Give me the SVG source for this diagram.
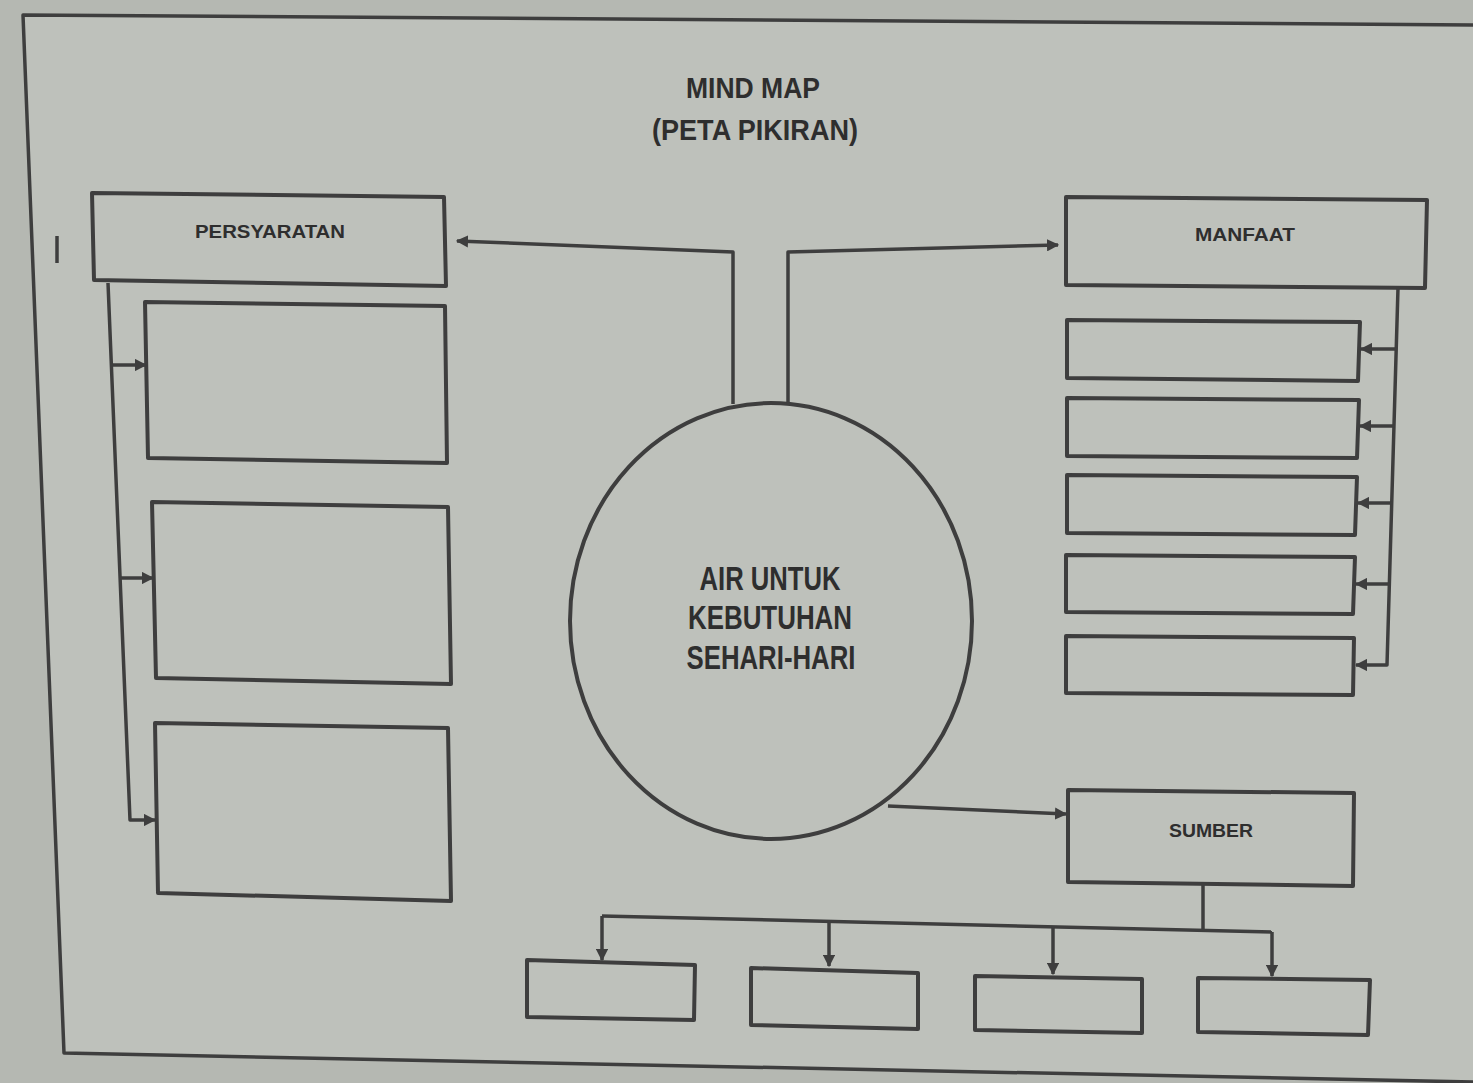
<svg xmlns="http://www.w3.org/2000/svg" width="1473" height="1083" viewBox="0 0 1473 1083">
<defs>
<style>
.bx{fill:none;stroke:#3e3e3e;stroke-width:4;stroke-linejoin:round}
.ln{fill:none;stroke:#3e3e3e;stroke-width:3.5;stroke-linejoin:round}
.t{font-family:"Liberation Sans",Arial,sans-serif;font-weight:bold;fill:#2e2e2e;text-anchor:middle}
</style>
<marker id="ah" viewBox="0 0 10 10" refX="9" refY="5" markerWidth="3.5" markerHeight="3.5" orient="auto" markerUnits="strokeWidth">
<path d="M0,0 L10,5 L0,10 z" fill="#3e3e3e"/>
</marker>
</defs>
<rect width="1473" height="1083" fill="#b5b8b2"/>
<polygon points="23,15 1473,25 1473,1082 64,1053" fill="#bec1bb"/>
<g id="frame">
<polyline class="ln" points="1473,25 23,15 64,1053 1473,1082" stroke-width="3"/>
<line class="ln" x1="57" y1="236" x2="57" y2="263" stroke-width="3"/>
</g>
<g id="title">
<text class="t" x="753" y="98" font-size="30" textLength="134" lengthAdjust="spacingAndGlyphs">MIND MAP</text>
<text class="t" x="755" y="140" font-size="30" textLength="206" lengthAdjust="spacingAndGlyphs">(PETA PIKIRAN)</text>
</g>
<g id="persyaratan">
<polygon class="bx" points="92,193 444,197 446,286 94,280"/>
<text class="t" x="270" y="238" font-size="19" textLength="150" lengthAdjust="spacingAndGlyphs">PERSYARATAN</text>
</g>
<g id="pers1"><polygon class="bx" points="145,302 445,306 447,463 148,458"/></g>
<g id="pers2"><polygon class="bx" points="152,502 448,507 451,684 156,678"/></g>
<g id="pers3"><polygon class="bx" points="155,723 448,728 451,901 158,893"/></g>
<g id="manfaat">
<polygon class="bx" points="1066,197 1427,200 1425,288 1066,285"/>
<text class="t" x="1245" y="241" font-size="18" textLength="100" lengthAdjust="spacingAndGlyphs">MANFAAT</text>
</g>
<g id="manf1"><polygon class="bx" points="1067,320 1360,322 1358,381 1067,378"/></g>
<g id="manf2"><polygon class="bx" points="1067,398 1359,400 1357,458 1067,456"/></g>
<g id="manf3"><polygon class="bx" points="1067,475 1357,477 1355,535 1067,533"/></g>
<g id="manf4"><polygon class="bx" points="1066,555 1355,557 1353,614 1066,612"/></g>
<g id="manf5"><polygon class="bx" points="1066,636 1354,638 1353,695 1066,693"/></g>
<g id="center">
<ellipse class="bx" cx="771" cy="621" rx="201" ry="218"/>
<text class="t" x="770" y="590" font-size="34" textLength="141" lengthAdjust="spacingAndGlyphs">AIR UNTUK</text>
<text class="t" x="770" y="629" font-size="34" textLength="164" lengthAdjust="spacingAndGlyphs">KEBUTUHAN</text>
<text class="t" x="771" y="669" font-size="34" textLength="169" lengthAdjust="spacingAndGlyphs">SEHARI-HARI</text>
</g>
<g id="sumber">
<polygon class="bx" points="1068,790 1354,793 1353,886 1068,882"/>
<text class="t" x="1211" y="837" font-size="18" textLength="84" lengthAdjust="spacingAndGlyphs">SUMBER</text>
</g>
<g id="sum1"><polygon class="bx" points="527,960 695,965 694,1020 527,1017"/></g>
<g id="sum2"><polygon class="bx" points="751,968 918,973 918,1029 751,1025"/></g>
<g id="sum3"><polygon class="bx" points="975,976 1142,979 1142,1033 975,1030"/></g>
<g id="sum4"><polygon class="bx" points="1198,978 1370,980 1368,1035 1198,1032"/></g>
<g id="connectors">
<polyline class="ln" points="733,404 733,252 457,241" marker-end="url(#ah)"/>
<polyline class="ln" points="788,403 788,252 1058,245" marker-end="url(#ah)"/>
<polyline class="ln" points="108,283 130,820 155,820" marker-end="url(#ah)"/>
<line class="ln" x1="112" y1="365" x2="146" y2="365" marker-end="url(#ah)"/>
<line class="ln" x1="121" y1="578" x2="153" y2="578" marker-end="url(#ah)"/>
<polyline class="ln" points="1398,288 1387,665 1356,665" marker-end="url(#ah)"/>
<line class="ln" x1="1397" y1="349" x2="1361" y2="349" marker-end="url(#ah)"/>
<line class="ln" x1="1395" y1="426" x2="1360" y2="426" marker-end="url(#ah)"/>
<line class="ln" x1="1392" y1="503" x2="1358" y2="503" marker-end="url(#ah)"/>
<line class="ln" x1="1390" y1="584" x2="1356" y2="584" marker-end="url(#ah)"/>
<line class="ln" x1="888" y1="806" x2="1066" y2="814" marker-end="url(#ah)"/>
<line class="ln" x1="1203" y1="885" x2="1203" y2="929"/>
<line class="ln" x1="602" y1="916" x2="1272" y2="932"/>
<line class="ln" x1="602" y1="916" x2="602" y2="960" marker-end="url(#ah)"/>
<line class="ln" x1="829" y1="922" x2="829" y2="966" marker-end="url(#ah)"/>
<line class="ln" x1="1053" y1="927" x2="1053" y2="974" marker-end="url(#ah)"/>
<line class="ln" x1="1272" y1="932" x2="1272" y2="976" marker-end="url(#ah)"/>
</g>
</svg>
